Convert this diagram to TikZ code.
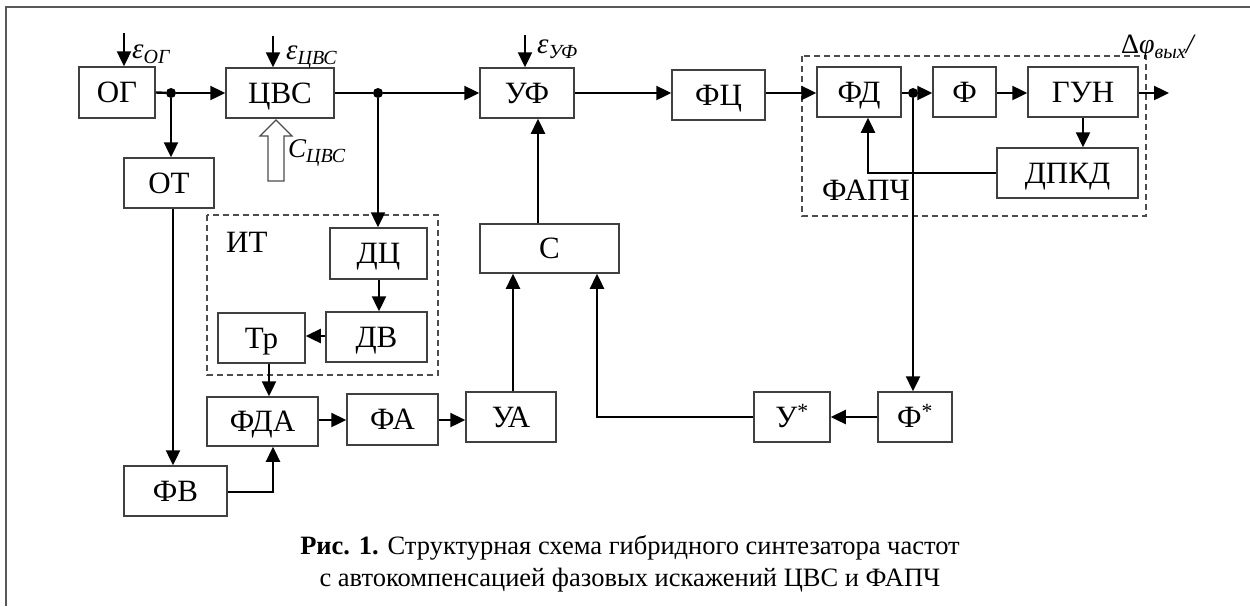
\documentclass[tikz,border=0pt]{standalone}
\usepackage{fontspec}
\setmainfont{Liberation Serif}
\usetikzlibrary{arrows.meta}
\newcommand\lsub[2]{#1\raisebox{-5pt}{\fontsize{20}{20}\selectfont #2}}
\begin{document}
\begin{tikzpicture}[x=1pt,y=-1pt,
  blk/.style={draw=black!75, line width=1.5pt, fill=white, inner sep=0pt,
    font=\fontsize{31}{32}\selectfont, text height=20.5pt, text depth=0pt},
  con/.style={line width=2.4pt, -{Triangle[length=15pt,width=14pt]}},
  ln/.style={line width=2.4pt},
  jdot/.style={circle, fill=black, inner sep=0pt, minimum size=10pt},
  grp/.style={draw=black!70, dash pattern=on 6pt off 4pt, line width=1.5pt},
  lbl/.style={inner sep=0pt, font=\fontsize{31}{32}\selectfont},
  elbl/.style={inner sep=0pt, font=\fontsize{29}{30}\selectfont\itshape},
  captxt/.style={inner sep=0pt, font=\fontsize{26.5}{28}\selectfont}
]
\useasboundingbox (0,0) rectangle (1250,606);
\draw[line width=2.5pt, black!65] (6,606) -- (6,7) -- (1250,7);

% group boxes
\draw[grp] (802,56) rectangle (1146,216);
\draw[grp] (207,215) rectangle (438,375);
\node[lbl, anchor=base west] (itl) at (226,252) {ИТ};
\node[lbl, anchor=base west] (fapchl) at (822,200) {ФАПЧ};

% blocks
\node[blk, minimum width=76pt, minimum height=51pt] (og) at (117,92.5) {ОГ};
\node[blk, minimum width=108pt, minimum height=50pt] (cvs) at (280,93) {ЦВС};
\node[blk, minimum width=90pt, minimum height=50pt] (ot) at (169,183) {ОТ};
\node[blk, minimum width=94pt, minimum height=50pt] (uf) at (527,93) {УФ};
\node[blk, minimum width=93pt, minimum height=50pt] (fc) at (718.5,95) {ФЦ};
\node[blk, minimum width=84pt, minimum height=50pt] (fd) at (859,92) {ФД};
\node[blk, minimum width=63pt, minimum height=50pt] (f) at (964.5,92) {Ф};
\node[blk, minimum width=110pt, minimum height=50pt] (gun) at (1083,92) {ГУН};
\node[blk, minimum width=141pt, minimum height=50pt] (dpkd) at (1067.5,173) {ДПКД};
\node[blk, minimum width=97pt, minimum height=51pt] (dc) at (378.5,253.5) {ДЦ};
\node[blk, minimum width=101pt, minimum height=50pt] (dv) at (376.5,337) {ДВ};
\node[blk, minimum width=87pt, minimum height=50pt] (tr) at (261.5,338) {Тр};
\node[blk, minimum width=111pt, minimum height=49pt] (fda) at (262.5,421.5) {ФДА};
\node[blk, minimum width=91pt, minimum height=51pt] (fa) at (392.5,419.5) {ФА};
\node[blk, minimum width=90pt, minimum height=50pt] (ua) at (511,417) {УА};
\node[blk, minimum width=139pt, minimum height=49pt] (s) at (549.5,248.5) {С};
\node[blk, minimum width=76pt, minimum height=50pt] (us) at (792,417) {У\textsuperscript{*}};
\node[blk, minimum width=74pt, minimum height=50pt] (fs) at (915,417) {Ф\textsuperscript{*}};
\node[blk, minimum width=103pt, minimum height=50pt] (fv) at (175.5,491) {ФВ};

% junctions and free ends
\node[jdot] (j1) at (171,93) {};
\node[jdot] (j2) at (378,93) {};
\node[jdot] (j3) at (913,93) {};
\coordinate (out) at (1169,93);
\coordinate (eog) at (124,33);
\coordinate (ecvs) at (273,36);
\coordinate (euf) at (525,35);
\coordinate (k1) at (868,173);
\coordinate (k2) at (597,417);
\coordinate (k3) at (273,492);

% connectors
\draw[ln] (og.east) -- (j1);
\draw[con] (j1) -- (cvs.west |- j1);
\draw[con] (j1) -- (j1 |- ot.north);
\draw[ln] (cvs.east |- j2) -- (j2);
\draw[con] (j2) -- (uf.west |- j2);
\draw[con] (j2) -- (j2 |- dc.north);
\draw[con] (uf.east |- j2) -- (fc.west |- j2);
\draw[con] (fc.east |- j2) -- (fd.west |- j2);
\draw[ln] (fd.east |- j3) -- (j3);
\draw[con] (j3) -- (f.west |- j3);
\draw[con] (f.east |- j3) -- (gun.west |- j3);
\draw[con] (gun.east |- out) -- (out);
\draw[con] (gun.south) -- (dpkd.north -| gun.south);
\draw[con] (dpkd.west) -- (k1) -- (k1 |- fd.south);
\draw[con] (j3) -- (j3 |- fs.north);
\draw[con] (fs.west) -- (us.east);
\draw[con] (us.west) -- (k2) -- (k2 |- s.south);
\draw[con] (ua.north -| 513,0) -- (s.south -| 513,0);
\draw[con] (s.north -| 538,0) -- (uf.south -| 538,0);
\draw[con] (dc.south -| 379,0) -- (dv.north -| 379,0);
\draw[con] (dv.west |- 0,336) -- (tr.east |- 0,336);
\draw[con] (tr.south -| 269,0) -- (fda.north -| 269,0);
\draw[con] (fda.east |- 0,420) -- (fa.west |- 0,420);
\draw[con] (fa.east |- 0,420) -- (ua.west |- 0,420);
\draw[con] (ot.south -| 173,0) -- (fv.north -| 173,0);
\draw[con] (fv.east |- k3) -- (k3) -- (k3 |- fda.south);

% input arrows
\draw[con] (eog) -- (eog |- og.north);
\draw[con] (ecvs) -- (ecvs |- cvs.north);
\draw[con] (euf) -- (euf |- uf.north);
\draw[line width=1.4pt, draw=black!70, fill=white]
  (268,181) -- (268,136) -- (260,136) -- (276,120) -- (292,136) -- (284,136) -- (284,181) -- cycle;

% labels
\node[elbl, anchor=base west] (leog) at (132,58) {\lsub{ε}{ОГ}};
\node[elbl, anchor=base west] (lecvs) at (286,59) {\lsub{ε}{ЦВС}};
\node[elbl, anchor=base west] (leuf) at (537,53) {\lsub{ε}{УФ}};
\node[elbl, anchor=base west, font=\fontsize{27}{28}\selectfont\itshape] (lccvs) at (288,157) {\lsub{C}{ЦВС}};
\node[inner sep=0pt, anchor=base west, font=\fontsize{28}{28}\selectfont] (ldphi) at (1121,53)
  {Δ\textit{\lsub{φ}{вых}}\textit{/}};

% caption
\node[captxt, anchor=base] (cap1) at (630,554) {\textbf{Рис. 1.} Структурная схема гибридного синтезатора частот};
\node[captxt, anchor=base] (cap2) at (630,586) {с автокомпенсацией фазовых искажений ЦВС и ФАПЧ};
\end{tikzpicture}
\end{document}
